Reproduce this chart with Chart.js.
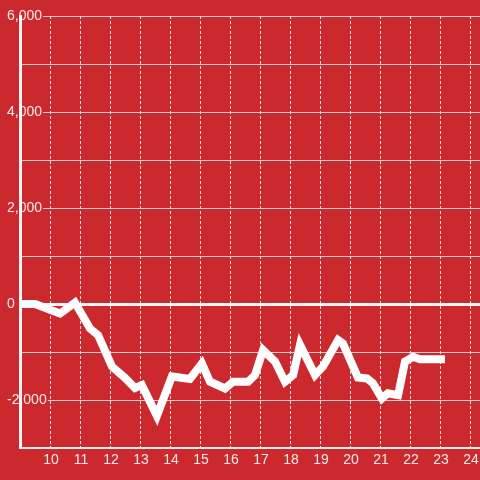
<!DOCTYPE html>
<html>
<head>
<meta charset="utf-8">
<script src="https://cdn.jsdelivr.net/npm/chart.js@4"></script>
<style>
  html, body { margin: 0; padding: 0; background: #cc292e; }
  #wrap { width: 480px; height: 480px; }
</style>
</head>
<body>
<div id="wrap"><canvas id="chart"></canvas></div>
<script>
// vertices of the line
const xValues = [8.97, 9.47, 10.30, 10.80, 11.30, 11.57, 12.03, 12.47, 12.80, 13.03,
  13.53, 14.03, 14.63, 15.03, 15.30, 15.80, 16.07, 16.57, 16.80, 17.07,
  17.47, 17.80, 18.07, 18.30, 18.80, 19.07, 19.57, 19.73, 20.23, 20.53,
  20.73, 21.03, 21.23, 21.57, 21.80, 22.07, 22.30, 23.00];
const yValues = [0, 0, -200, 30, -510, -650, -1300, -1540, -1750, -1690,
  -2330, -1510, -1560, -1240, -1620, -1760, -1620, -1620, -1480, -960,
  -1200, -1620, -1480, -850, -1480, -1300, -750, -820, -1530, -1550,
  -1650, -1970, -1860, -1900, -1200, -1100, -1150, -1150];
const xTickLabels = [10, 11, 12, 13, 14, 15, 16, 17, 18, 19, 20, 21, 22, 23, 24];
const yTickLabels = [-2000, 0, 2000, 4000, 6000];

const BG = '#cc292e';
const TEXT = 'rgba(255,255,255,0.9)';
const font = { family: '"Liberation Sans", Arial, sans-serif', size: 14 };

new Chart(document.getElementById('chart'), {
  type: 'line',
  data: {
    datasets: [{
      data: xValues.map((x, i) => ({ x: x, y: yValues[i] })),
      borderColor: '#ffffff',
      borderWidth: 8,
      borderCapStyle: 'square',
      pointRadius: 0,
      fill: false,
      tension: 0
    }]
  },
  options: {
    responsive: true,
    maintainAspectRatio: false,
    animation: false,
    layout: { padding: { top: 16, left: 7, right: 0, bottom: 0 } },
    plugins: { legend: { display: false }, tooltip: { enabled: false } },
    scales: {
      x: {
        type: 'linear',
        min: 8.967,
        max: 24.3,
        afterFit: s => { s.height = 32; },
        ticks: {
          stepSize: 1,
          includeBounds: false,
          autoSkip: false,
          maxRotation: 0,
          padding: 0,
          color: TEXT,
          font: font,
          callback: v => xTickLabels.includes(v) ? String(v) : ''
        },
        grid: {
          color: c => xTickLabels.includes(c.tick && c.tick.value) ? 'rgba(255,255,255,0.85)' : 'rgba(0,0,0,0)',
          lineWidth: 1,
          drawTicks: true,
          tickLength: 4,
          tickColor: 'rgba(0,0,0,0)'
        },
        border: { display: true, color: '#eeeeee', width: 2, dash: [3, 2] }
      },
      y: {
        min: -3000,
        max: 6000,
        afterFit: s => { s.width = 13; },
        ticks: {
          stepSize: 1000,
          mirror: true,
          crossAlign: 'near',
          padding: -13,
          color: TEXT,
          font: font,
          // red box behind each label hides the grid line there
          showLabelBackdrop: true,
          backdropColor: c => yTickLabels.includes(c.tick.value) ? BG : 'rgba(0,0,0,0)',
          backdropPadding: { top: 0, bottom: 0, left: 2, right: 1 },
          callback: v => yTickLabels.includes(v) ? v.toLocaleString('en-US') : ''
        },
        grid: {
          color: c => c.tick && c.tick.value === 0 ? '#f6f6f6' : 'rgba(228,222,222,0.9)',
          lineWidth: c => c.tick && c.tick.value === 0 ? 3 : 1,
          drawTicks: false
        },
        border: { display: true, color: '#f4f4f4', width: 3, z: 1 }
      }
    }
  }
});
</script>
</body>
</html>
